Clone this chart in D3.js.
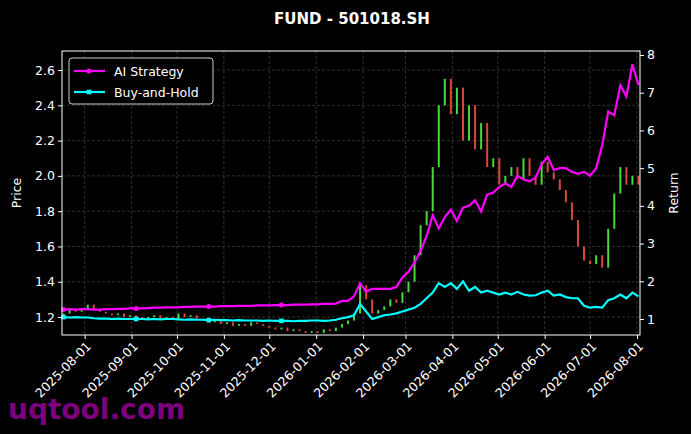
<!DOCTYPE html>
<html><head><meta charset="utf-8">
<script src="https://cdn.jsdelivr.net/npm/d3@7"></script>
<style>body{margin:0;background:#000}text{font-family:"DejaVu Sans",sans-serif}</style>
</head><body><svg id="c" width="691" height="434"></svg>
<script>
// one sample every 4 days from 2025-07-18
var closes = [1.22,1.24,1.23,1.25,1.27,1.24,1.23,1.22,1.21,1.22,1.20,1.21,
  1.20,1.19,1.20,1.21,1.19,1.20,1.19,1.22,1.20,1.21,1.19,1.18,
  1.17,1.18,1.16,1.17,1.15,1.16,1.15,1.17,1.16,1.15,1.14,1.13,
  1.14,1.12,1.13,1.12,1.11,1.12,1.11,1.13,1.12,1.14,1.16,1.18,
  1.22,1.38,1.30,1.22,1.24,1.26,1.30,1.28,
  1.34,1.40,1.55,1.72,1.80,2.05,2.40,2.55,
  2.35,2.50,2.20,2.40,2.15,2.30,2.05,2.10,
  1.95,2.00,2.05,1.98,2.10,2.00,1.95,2.08,
  2.02,1.98,1.92,1.85,1.75,1.60,1.52,1.50,
  1.55,1.48,1.70,1.90,2.05,1.95,2.00,1.95];
var aiReturn = [1.25,1.26,1.25,1.26,1.26,1.25,1.25,1.26,1.26,1.27,1.27,1.28,
  1.28,1.28,1.29,1.30,1.30,1.31,1.31,1.31,1.32,1.32,1.33,1.33,
  1.33,1.33,1.34,1.34,1.34,1.35,1.35,1.35,1.36,1.36,1.36,1.37,
  1.37,1.37,1.38,1.38,1.38,1.39,1.39,1.40,1.40,1.41,1.48,1.48,
  1.60,1.95,1.72,1.80,1.80,1.80,1.80,1.85,
  2.10,2.25,2.50,2.80,3.20,3.75,3.40,3.70,
  3.90,3.60,3.95,4.00,4.15,3.85,4.30,4.35,
  4.50,4.60,4.50,4.80,4.70,4.65,4.75,5.10,
  5.30,4.95,5.00,5.00,4.90,4.85,4.90,4.80,
  5.00,5.60,6.50,6.40,7.20,6.90,7.75,7.20];
var bhReturn = [1.05,1.04,1.05,1.04,1.04,1.02,1.01,1.01,1.00,1.01,1.00,1.00,
  1.00,1.00,0.99,1.00,0.99,1.00,1.00,0.99,0.98,0.99,0.98,0.98,
  0.97,0.98,0.97,0.97,0.96,0.97,0.96,0.96,0.96,0.95,0.96,0.95,
  0.95,0.95,0.94,0.95,0.95,0.96,0.96,0.95,0.96,0.98,1.02,1.05,
  1.10,1.40,1.20,1.00,1.05,1.10,1.12,1.15,
  1.20,1.25,1.30,1.40,1.55,1.70,1.95,1.85,
  1.95,1.80,2.00,1.75,1.85,1.70,1.75,1.70,
  1.65,1.70,1.65,1.72,1.65,1.62,1.63,1.70,
  1.75,1.62,1.65,1.58,1.55,1.55,1.35,1.30,
  1.32,1.30,1.50,1.55,1.65,1.55,1.70,1.60];
var priceTicks = [1.2,1.4,1.6,1.8,2.0,2.2,2.4,2.6];
var returnTicks = [1,2,3,4,5,6,7,8];

var svg = d3.select('#c');
var m = {l: 62, r: 640, t: 51, b: 335};
var start = new Date(2025, 6, 18);
var dates = closes.map((c, i) => d3.timeDay.offset(start, 4 * i));

var x = d3.scaleTime().domain([new Date(2025, 6, 17), new Date(2026, 7, 3)]).range([m.l, m.r]);
var yP = d3.scaleLinear().domain([1.098, 2.708]).range([m.b, m.t]);
var yR = d3.scaleLinear().domain([0.576, 8.106]).range([m.b, m.t]);
var months = d3.timeMonth.range(new Date(2025, 7, 1), new Date(2026, 7, 2));

svg.append('text').attr('x', 352).attr('y', 24).attr('text-anchor', 'middle')
  .attr('fill', '#fff').attr('font-weight', 'bold').attr('font-size', 15).text('FUND - 501018.SH');

// grid
var grid = svg.append('g').attr('stroke', '#444').attr('stroke-dasharray', '3,2').attr('stroke-width', 0.7);
months.forEach(d => grid.append('line').attr('x1', x(d)).attr('x2', x(d)).attr('y1', m.t).attr('y2', m.b));
priceTicks.forEach(v => grid.append('line').attr('x1', m.l).attr('x2', m.r).attr('y1', yP(v)).attr('y2', yP(v)));

// candles
var cw = 2;
svg.append('g').selectAll('rect').data(closes).enter().append('rect')
  .attr('x', (d, i) => x(dates[i]) - cw / 2)
  .attr('width', cw)
  .attr('y', (d, i) => { var o = i ? closes[i - 1] : d; return yP(Math.max(o, d)); })
  .attr('height', (d, i) => { var o = i ? closes[i - 1] : d; return Math.max(1.5, Math.abs(yP(o) - yP(d))); })
  .attr('fill', (d, i) => (i && d < closes[i - 1]) ? '#ff5545' : '#55ff44')
  .attr('opacity', 0.85);

// return lines
function drawLine(vals, color, square) {
  var line = d3.line().x((d, i) => x(dates[i])).y(d => yR(d));
  svg.append('path').datum(vals).attr('d', line).attr('fill', 'none')
    .attr('stroke', color).attr('stroke-width', 2.2);
  var pts = vals.map((d, i) => [dates[i], d]).filter((p, i) => i % 12 === 0 && i < 48);
  var g = svg.append('g');
  if (square) {
    g.selectAll('rect').data(pts).enter().append('rect')
      .attr('x', p => x(p[0]) - 2.3).attr('y', p => yR(p[1]) - 2.3).attr('width', 4.6).attr('height', 4.6).attr('fill', color);
  } else {
    g.selectAll('circle').data(pts).enter().append('circle')
      .attr('cx', p => x(p[0])).attr('cy', p => yR(p[1])).attr('r', 2.5).attr('fill', color);
  }
}
drawLine(aiReturn, '#ff00ff', false);
drawLine(bhReturn, '#00ffff', true);

svg.append('rect').attr('x', m.l).attr('y', m.t).attr('width', m.r - m.l).attr('height', m.b - m.t)
  .attr('fill', 'none').attr('stroke', '#fff').attr('stroke-width', 1);

// axes
var ax = svg.append('g').attr('transform', 'translate(0,' + m.b + ')')
  .call(d3.axisBottom(x).tickValues(months).tickFormat(d3.timeFormat('%Y-%m-%d')).tickSize(4));
ax.selectAll('text').attr('transform', 'rotate(-45)').attr('text-anchor', 'end')
  .attr('dx', '-0.3em').attr('dy', '0.5em').attr('font-size', 12.5);
var al = svg.append('g').attr('transform', 'translate(' + m.l + ',0)')
  .call(d3.axisLeft(yP).tickValues(priceTicks).tickFormat(d3.format('.1f')).tickSize(4));
al.selectAll('text').attr('font-size', 12.5);
var ar = svg.append('g').attr('transform', 'translate(' + m.r + ',0)')
  .call(d3.axisRight(yR).tickValues(returnTicks).tickSize(4));
ar.selectAll('text').attr('font-size', 12.5);
svg.selectAll('.domain').remove();
svg.selectAll('.tick line').attr('stroke', '#fff');
svg.selectAll('.tick text').attr('fill', '#fff').attr('font-family', '"DejaVu Sans",sans-serif');

svg.append('text').attr('transform', 'translate(21,' + (m.t + m.b) / 2 + ') rotate(-90)')
  .attr('text-anchor', 'middle').attr('fill', '#fff').attr('font-size', 12.5).text('Price');
svg.append('text').attr('transform', 'translate(678,' + (m.t + m.b) / 2 + ') rotate(-90)')
  .attr('text-anchor', 'middle').attr('fill', '#fff').attr('font-size', 12.5).text('Return');

// legend
var lg = svg.append('g').attr('transform', 'translate(69,58)');
lg.append('rect').attr('width', 144).attr('height', 46).attr('rx', 3).attr('fill', '#000').attr('stroke', '#ccc');
[['AI Strategy', '#ff00ff'], ['Buy-and-Hold', '#00ffff']].forEach((s, i) => {
  var yy = 13 + i * 21;
  lg.append('line').attr('x1', 5).attr('x2', 36).attr('y1', yy).attr('y2', yy).attr('stroke', s[1]).attr('stroke-width', 2.2);
  if (i) lg.append('rect').attr('x', 17.7).attr('y', yy - 2.3).attr('width', 4.6).attr('height', 4.6).attr('fill', s[1]);
  else lg.append('circle').attr('cx', 20).attr('cy', yy).attr('r', 2.5).attr('fill', s[1]);
  lg.append('text').attr('x', 45).attr('y', yy + 4.5).attr('fill', '#fff').attr('font-size', 12.5).text(s[0]);
});

svg.append('text').attr('x', 8).attr('y', 419).attr('fill', '#8a008a').attr('font-weight', 'bold')
  .attr('font-size', 28).attr('opacity', 0.9).text('uqtool.com');
</script></body></html>
